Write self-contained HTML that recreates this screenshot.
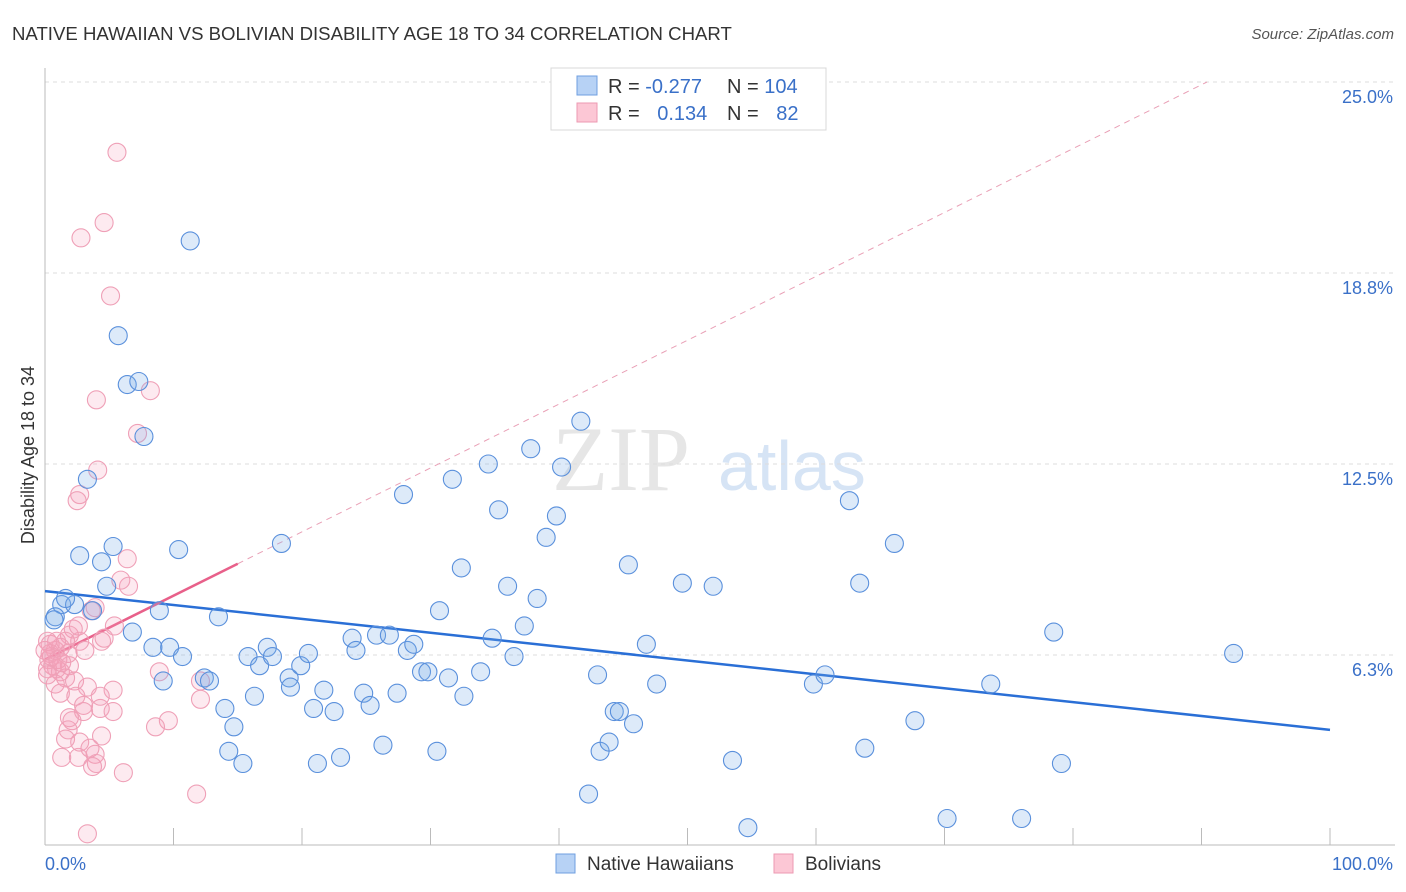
<!DOCTYPE html>
<html><head><meta charset="utf-8">
<style>
body{margin:0;background:#fff;font-family:"Liberation Sans",sans-serif;}
#wrap{position:relative;width:1406px;height:892px;overflow:hidden;}
</style></head>
<body>
<div id="wrap">
<svg id="svg" width="1406" height="892" xmlns="http://www.w3.org/2000/svg">
<text x="12" y="40" font-size="18.6" fill="#333">NATIVE HAWAIIAN VS BOLIVIAN DISABILITY AGE 18 TO 34 CORRELATION CHART</text>
<text x="1394" y="39" font-size="15" fill="#555" font-style="italic" text-anchor="end">Source: ZipAtlas.com</text>
<g>
<text x="552" y="490" font-size="92" fill="#e6e6e6" font-family="Liberation Serif,serif">ZIP</text>
<text x="718" y="490" font-size="70" fill="#d6e4f5">atlas</text>
</g>
<g id="grid"></g>
<g id="axes"></g>
<g id="lines"></g>
<g id="pts"></g>
<text transform="translate(34,455) rotate(-90)" font-size="18" fill="#333" text-anchor="middle">Disability Age 18 to 34</text>
<text x="45" y="870" font-size="18" fill="#3a70c8">0.0%</text>
<text x="1393" y="870" font-size="18" fill="#3a70c8" text-anchor="end">100.0%</text>
<g>
<rect x="556" y="854" width="19" height="19" fill="#b7d2f5" stroke="#6f9fe0"/>
<text x="587" y="870" font-size="19" fill="#333">Native Hawaiians</text>
<rect x="774" y="854" width="19" height="19" fill="#fcc7d5" stroke="#ec9ab2"/>
<text x="805" y="870" font-size="19" fill="#333">Bolivians</text>
</g>
<g>
<rect x="551" y="68" width="275" height="62" fill="#fff" stroke="#d8d8d8"/>
<rect x="577" y="76" width="20" height="19" fill="#b7d2f5" stroke="#6f9fe0"/>
<text x="608" y="93" font-size="20" fill="#333">R = <tspan fill="#3a70c8">-0.277</tspan></text>
<text x="727" y="93" font-size="20" fill="#333">N = <tspan fill="#3a70c8">104</tspan></text>
<rect x="577" y="103" width="20" height="19" fill="#fcc7d5" stroke="#ec9ab2"/>
<text x="608" y="120" font-size="20" fill="#333">R = <tspan fill="#3a70c8" dx="12">0.134</tspan></text>
<text x="727" y="120" font-size="20" fill="#333">N = <tspan fill="#3a70c8" dx="12">82</tspan></text>
</g>
</svg>
</div>
<script>
const yTicks=[25.0,18.75,12.5,6.25];
const yTickLabels=["25.0%","18.8%","12.5%","6.3%"];
const xTicks=[0,10,20,30,40,50,60,70,80,90,100];
const blueX=[11.3,5.7,6.4,7.3,7.7,3.3,2.7,5.3,4.4,4.8,10.4,1.3,2.3,1.6,0.8,3.7,0.7,6.8,8.9,13.5,8.4,9.7,10.7,9.2,12.4,12.8,14.0,14.7,14.3,15.4,16.3,15.8,16.7,17.3,17.7,18.4,19.0,19.1,19.9,20.5,20.9,21.2,21.7,22.5,23.0,23.9,24.2,24.8,25.3,25.8,26.8,26.3,27.4,27.9,28.2,28.7,29.3,29.8,30.5,30.7,31.4,31.7,32.4,32.6,33.9,34.5,34.8,35.3,36.0,36.5,37.3,37.8,38.3,39.0,39.8,40.2,41.7,42.3,43.0,43.2,43.9,44.3,44.7,45.4,45.8,46.8,47.6,49.6,52.0,53.5,54.7,59.8,60.7,62.6,63.4,63.8,66.1,67.7,70.2,73.6,76.0,78.5,79.1,92.5];
const blueY=[19.8,16.7,15.1,15.2,13.4,12.0,9.5,9.8,9.3,8.5,9.7,7.9,7.9,8.1,7.5,7.7,7.4,7.0,7.7,7.5,6.5,6.5,6.2,5.4,5.5,5.4,4.5,3.9,3.1,2.7,4.9,6.2,5.9,6.5,6.2,9.9,5.5,5.2,5.9,6.3,4.5,2.7,5.1,4.4,2.9,6.8,6.4,5.0,4.6,6.9,6.9,3.3,5.0,11.5,6.4,6.6,5.7,5.7,3.1,7.7,5.5,12.0,9.1,4.9,5.7,12.5,6.8,11.0,8.5,6.2,7.2,13.0,8.1,10.1,10.8,12.4,13.9,1.7,5.6,3.1,3.4,4.4,4.4,9.2,4.0,6.6,5.3,8.6,8.5,2.8,0.6,5.3,5.6,11.3,8.6,3.2,9.9,4.1,0.9,5.3,0.9,7.0,2.7,6.3];
const pinkX=[5.6,4.6,2.8,5.1,4.0,8.2,7.2,4.1,2.7,2.5,6.4,6.5,5.9,3.9,3.6,5.4,4.6,4.4,2.2,1.9,1.6,2.7,1.2,0.8,0.4,0.3,0.6,0.9,1.2,1.9,1.6,0.8,2.3,3.3,1.2,2.4,5.3,3.0,4.3,3.0,2.1,1.8,1.9,4.4,5.3,8.9,12.1,12.1,9.6,8.6,1.3,2.6,3.9,4.0,3.7,6.1,11.8,3.3,0.4,0.2,0.5,1.0,1.3,0.2,2.6,3.1,1.8,0.9,4.3,1.6,2.7,3.5,0.0,0.2];
const pinkY=[22.7,20.4,19.9,18.0,14.6,14.9,13.5,12.3,11.5,11.3,9.4,8.5,8.7,7.8,7.7,7.2,6.8,6.7,7.1,6.9,6.7,6.7,6.5,6.4,6.3,6.1,5.9,5.8,5.7,5.9,5.5,5.3,5.4,5.2,5.0,4.9,5.1,4.6,4.5,4.4,4.1,3.8,4.2,3.6,4.4,5.7,5.4,4.8,4.1,3.9,2.9,2.9,3.0,2.7,2.6,2.4,1.7,0.4,6.6,5.8,6.2,6.1,6.0,6.7,7.2,6.4,6.3,6.7,4.9,3.5,3.4,3.2,6.4,5.6];
const blueFit=[8.34,3.8];
const pinkFit=[6.1,0.209];
const pinkSolidEnd=15;

const NS="http://www.w3.org/2000/svg";
const X=v=>45+v*12.85;
const Y=v=>82+(25-v)*30.56;
function mk(tag,attrs,parent){const e=document.createElementNS(NS,tag);for(const k in attrs)e.setAttribute(k,attrs[k]);document.getElementById(parent).appendChild(e);return e;}

yTicks.forEach((t,i)=>{
  const l=mk('line',{x1:45,x2:1395,y1:Y(t),y2:Y(t),stroke:'#ddd','stroke-dasharray':'4,4'},'grid');
  
  
  const tx=mk('text',{x:1393,y:Y(t)+21,'font-size':18,fill:'#3a70c8','text-anchor':'end'},'grid');
  tx.textContent=yTickLabels[i];
  
  
});
const ax=mk('line',{x1:45,x2:45,y1:68,y2:845,stroke:'#bbb'},'axes');


const bx=mk('line',{x1:45,x2:1395,y1:845,y2:845,stroke:'#bbb'},'axes');


xTicks.forEach(t=>{
  const l=mk('line',{x1:X(t),x2:X(t),y1:828,y2:845,stroke:'#bbb'},'axes');
  
  
});
function pts(xs,ys,fill,stroke,name){
  xs.forEach((x,i)=>{
    const c=mk('circle',{cx:X(x),cy:Y(ys[i]),r:9,fill:fill,stroke:stroke,'stroke-width':1.1},'pts');
    
    
  });
}
pts(pinkX,pinkY,'rgba(248,160,185,0.22)','#efa0b7','bolivian-point');
pts(blueX,blueY,'rgba(120,170,230,0.25)','#5a90dc','native-hawaiian-point');
const bl=mk('line',{x1:X(0),y1:Y(blueFit[0]),x2:X(100),y2:Y(blueFit[1]),stroke:'#2a6fd6','stroke-width':2.5},'lines');


const xe=(25-pinkFit[0])/pinkFit[1];
const pd=mk('line',{x1:X(pinkSolidEnd),y1:Y(pinkFit[0]+pinkFit[1]*pinkSolidEnd),x2:X(xe),y2:Y(25),stroke:'#e9a0b6','stroke-width':1,'stroke-dasharray':'6,5'},'lines');


const ps=mk('line',{x1:X(0),y1:Y(pinkFit[0]),x2:X(pinkSolidEnd),y2:Y(pinkFit[0]+pinkFit[1]*pinkSolidEnd),stroke:'#e8608a','stroke-width':2.5},'lines');


</script>
</body></html>
